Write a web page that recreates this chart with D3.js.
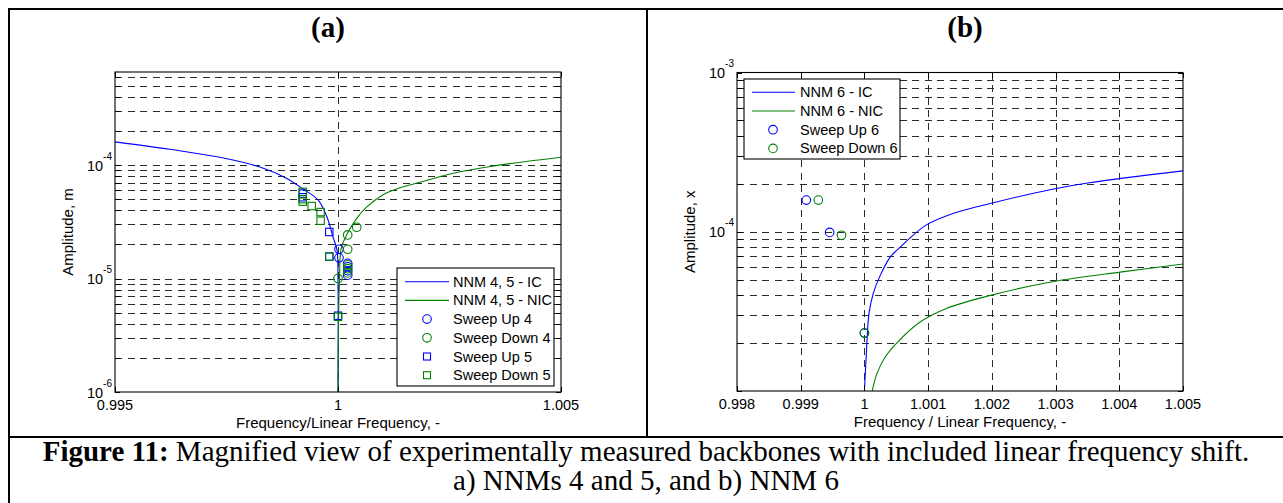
<!DOCTYPE html>
<html>
<head>
<meta charset="utf-8">
<script src="https://cdn.jsdelivr.net/npm/d3@7"></script>
<style>
  html, body { margin: 0; padding: 0; background: #fff; }
  svg { display: block; }
</style>
</head>
<body>
<svg id="fig" width="1283" height="503"></svg>
<script>
// ---------- Panel (a): NNMs 4 and 5 ----------
const freqTicksA = [0.995, 1, 1.005];
const ampLabelsA = [1e-6, 1e-5, 1e-4];

// backbone curves [frequency ratio, amplitude]
const nnm45IC = [
  [0.995, 1.60e-4], [0.99623, 1.375e-4], [0.99735, 1.17e-4], [0.99825, 9.6e-5],
  [0.99883, 7.7e-5], [0.999215, 6.15e-5], [0.999552, 4.92e-5], [0.999753, 3.48e-5],
  [0.999888, 2.32e-5], [0.999978, 1.78e-5], [1.0, 9.1e-6], [1.0, 1.0e-6]
];
const nnm45NIC = [
  [1.0, 1.0e-6], [1.000016, 5.3e-6], [1.000034, 9.7e-6], [1.000072, 1.85e-5],
  [1.0002, 2.45e-5], [1.00042, 3.39e-5], [1.00064, 4.25e-5], [1.00102, 5.5e-5],
  [1.00139, 6.3e-5], [1.00184, 7.05e-5], [1.00249, 8.3e-5], [1.00341, 9.7e-5],
  [1.005, 1.17e-4]
];

// measured points
const sweepUp4 = [
  [1.000022, 1.81e-5], [1.000022, 1.52e-5], [1.000217, 1.36e-5],
  [1.000217, 1.27e-5], [1.000217, 1.17e-5], [1.000217, 1.07e-5]
];
const sweepDown4 = [
  [1.000419, 2.83e-5], [1.000217, 2.42e-5], [1.000217, 1.81e-5],
  [1.000217, 1.32e-5], [1.000217, 1.22e-5], [1.000217, 1.12e-5], [1.0, 1.0e-5]
];
const sweepUp5 = [
  [0.99921, 5.6e-5], [0.99921, 5.2e-5], [0.999805, 2.57e-5],
  [0.999805, 1.56e-5], [1.0, 4.7e-6]
];
const sweepDown5 = [
  [0.99921, 5.8e-5], [0.99921, 5.0e-5], [0.99921, 4.75e-5], [0.99941, 4.35e-5],
  [0.99961, 3.85e-5], [0.99961, 3.23e-5], [0.999805, 1.56e-5], [1.0, 4.6e-6]
];

// ---------- Panel (b): NNM 6 ----------
const freqTicksB = [0.998, 0.999, 1, 1.001, 1.002, 1.003, 1.004, 1.005];
const ampLabelsB = [1e-4, 1e-3];

const nnm6IC = [
  [1.0, 1.0e-5], [1.000025, 1.56e-5], [1.000072, 3.07e-5], [1.00014, 4.12e-5],
  [1.00025, 5.34e-5], [1.000407, 6.96e-5], [1.000512, 7.67e-5], [1.000967, 1.10e-4],
  [1.001411, 1.31e-4], [1.001992, 1.51e-4], [1.00295, 1.85e-4], [1.00353, 2.03e-4],
  [1.005, 2.41e-4]
];
const nnm6NIC = [
  [1.000121, 1.0e-5], [1.000198, 1.29e-5], [1.000328, 1.64e-5], [1.000506, 2.0e-5],
  [1.000878, 2.72e-5], [1.001286, 3.30e-5], [1.001992, 4.0e-5], [1.00295, 4.85e-5],
  [1.004042, 5.6e-5], [1.005, 6.27e-5]
];
const sweepUp6 = [[0.999088, 1.58e-4], [0.999454, 9.9e-5], [1.0, 2.31e-5]];
const sweepDown6 = [[0.999276, 1.58e-4], [0.99964, 9.5e-5], [1.0, 2.31e-5]];

// ---------- styling ----------
const BLUE = "#0000ff";
const GREEN = "#008000";
const SANS = "'Liberation Sans', Arial, sans-serif";
const SERIF = "'Liberation Serif', 'Times New Roman', serif";

const svg = d3.select("#fig");
svg.append("rect").attr("width", 1283).attr("height", 503).attr("fill", "#fff");

// table frame around the two panels and the caption
const frame = svg.append("g").attr("stroke", "#000").attr("stroke-width", 2);
frame.append("line").attr("x1", 8).attr("x2", 1283).attr("y1", 9).attr("y2", 9);
frame.append("line").attr("x1", 9).attr("x2", 9).attr("y1", 8).attr("y2", 503);
frame.append("line").attr("x1", 647).attr("x2", 647).attr("y1", 9).attr("y2", 437);
frame.append("line").attr("x1", 8).attr("x2", 1283).attr("y1", 437).attr("y2", 437);

function drawPanel(cfg) {
  const g = svg.append("g");
  const x = d3.scaleLinear().domain(cfg.xDomain).range([cfg.left, cfg.right]);
  const y = d3.scaleLog().domain(cfg.yDomain).range([cfg.bottom, cfg.top]);
  const yTicks = y.ticks();
  const px = v => Math.round(v) + 0.5;

  // panel title
  g.append("text")
    .attr("x", cfg.titleX).attr("y", 37)
    .attr("text-anchor", "middle")
    .attr("font-family", SERIF).attr("font-weight", "bold").attr("font-size", 29)
    .text(cfg.title);

  // dashed grid
  const grid = g.append("g")
    .attr("stroke", "#2a2a2a").attr("stroke-width", 1)
    .attr("stroke-dasharray", "7,5.5").attr("shape-rendering", "crispEdges");
  grid.selectAll("line.h")
    .data(yTicks.filter(v => y(v) > cfg.top + 1 && y(v) < cfg.bottom - 1))
    .join("line").attr("class", "h")
    .attr("x1", cfg.left).attr("x2", cfg.right)
    .attr("y1", d => px(y(d))).attr("y2", d => px(y(d)));
  grid.selectAll("line.v")
    .data(cfg.xTicks.filter(v => x(v) > cfg.left + 1 && x(v) < cfg.right - 1))
    .join("line").attr("class", "v")
    .attr("y1", cfg.top).attr("y2", cfg.bottom)
    .attr("x1", d => px(x(d))).attr("x2", d => px(x(d)));

  // clipped data layer
  const clipId = "clip-" + cfg.id;
  svg.append("clipPath").attr("id", clipId)
    .append("rect")
    .attr("x", cfg.left).attr("y", cfg.top)
    .attr("width", cfg.right - cfg.left).attr("height", cfg.bottom - cfg.top);
  const data = g.append("g").attr("clip-path", `url(#${clipId})`);

  const line = d3.line()
    .x(d => x(d[0])).y(d => y(d[1]))
    .curve(d3.curveCatmullRom.alpha(0.5));

  cfg.curves.forEach(c => {
    data.append("path").datum(c.values)
      .attr("d", line).attr("fill", "none")
      .attr("stroke", c.color).attr("stroke-width", 1.1);
  });

  cfg.markers.forEach(m => {
    if (m.shape === "circle") {
      data.selectAll(null).data(m.values).join("circle")
        .attr("cx", d => x(d[0])).attr("cy", d => y(d[1])).attr("r", 4.3)
        .attr("fill", "none").attr("stroke", m.color).attr("stroke-width", 1.1);
    } else {
      data.selectAll(null).data(m.values).join("rect")
        .attr("x", d => x(d[0]) - 3.7).attr("y", d => y(d[1]) - 3.7)
        .attr("width", 7.4).attr("height", 7.4)
        .attr("fill", "none").attr("stroke", m.color).attr("stroke-width", 1.1);
    }
  });

  // axes box
  g.append("rect")
    .attr("x", cfg.left).attr("y", cfg.top)
    .attr("width", cfg.right - cfg.left).attr("height", cfg.bottom - cfg.top)
    .attr("fill", "none").attr("stroke", "#000").attr("stroke-width", 1.1);

  // inward ticks on all four sides
  const tk = g.append("g").attr("stroke", "#000").attr("stroke-width", 1)
    .attr("shape-rendering", "crispEdges");
  const TL = 5;
  yTicks.forEach(v => {
    const yy = px(y(v));
    tk.append("line").attr("x1", cfg.left).attr("x2", cfg.left + TL).attr("y1", yy).attr("y2", yy);
    tk.append("line").attr("x1", cfg.right - TL).attr("x2", cfg.right).attr("y1", yy).attr("y2", yy);
  });
  cfg.xTicks.forEach(v => {
    const xx = px(x(v));
    tk.append("line").attr("x1", xx).attr("x2", xx).attr("y1", cfg.bottom - TL).attr("y2", cfg.bottom);
    tk.append("line").attr("x1", xx).attr("x2", xx).attr("y1", cfg.top).attr("y2", cfg.top + TL);
  });

  // x tick labels
  g.selectAll(null).data(cfg.xTicks).join("text")
    .attr("x", d => x(d)).attr("y", cfg.bottom + 18)
    .attr("text-anchor", "middle")
    .attr("font-family", SANS).attr("font-size", 14.5)
    .text(d => d3.format("")(d));

  // y tick labels as powers of ten
  cfg.yLabels.forEach(v => {
    const t = g.append("text")
      .attr("x", cfg.left - 3).attr("y", y(v) + 5.5)
      .attr("text-anchor", "end")
      .attr("font-family", SANS).attr("font-size", 14.5);
    t.append("tspan").text("10");
    t.append("tspan").attr("font-size", 10).attr("dy", -11)
      .text(String(Math.round(Math.log10(v))));
  });

  // axis labels
  g.append("text")
    .attr("x", (cfg.left + cfg.right) / 2).attr("y", cfg.bottom + 36)
    .attr("text-anchor", "middle")
    .attr("font-family", SANS).attr("font-size", 15)
    .text(cfg.xLabel);
  g.append("text")
    .attr("transform", `translate(${cfg.yLabelX},${(cfg.top + cfg.bottom) / 2}) rotate(-90)`)
    .attr("text-anchor", "middle")
    .attr("font-family", SANS).attr("font-size", 15)
    .text(cfg.yLabel);

  // legend
  const L = cfg.legend;
  const lg = g.append("g");
  lg.append("rect")
    .attr("x", L.x).attr("y", L.y).attr("width", L.w).attr("height", L.h)
    .attr("fill", "#fff").attr("stroke", "#000").attr("stroke-width", 1.1);
  L.entries.forEach((e, i) => {
    const ry = L.y + L.firstRow + i * L.rowStep;
    if (e.type === "line") {
      lg.append("line")
        .attr("x1", L.x + L.lineX0).attr("x2", L.x + L.lineX1)
        .attr("y1", ry).attr("y2", ry)
        .attr("stroke", e.color).attr("stroke-width", 1.1);
    } else if (e.type === "circle") {
      lg.append("circle")
        .attr("cx", L.x + L.markX).attr("cy", ry).attr("r", 4.3)
        .attr("fill", "none").attr("stroke", e.color).attr("stroke-width", 1.1);
    } else {
      lg.append("rect")
        .attr("x", L.x + L.markX - 3.5).attr("y", ry - 3.5)
        .attr("width", 7).attr("height", 7)
        .attr("fill", "none").attr("stroke", e.color).attr("stroke-width", 1.1);
    }
    lg.append("text")
      .attr("x", L.x + L.textX).attr("y", ry + 5)
      .attr("font-family", SANS).attr("font-size", 14.5)
      .text(e.label);
  });
}

drawPanel({
  id: "a", title: "(a)", titleX: 328,
  left: 115, right: 561, top: 72, bottom: 392,
  xDomain: [0.995, 1.005], yDomain: [1e-6, 6.6e-4],
  xTicks: freqTicksA, yLabels: ampLabelsA,
  xLabel: "Frequency/Linear Frequency, -", yLabel: "Amplitude, m", yLabelX: 73,
  curves: [
    { values: nnm45IC, color: BLUE },
    { values: nnm45NIC, color: GREEN }
  ],
  markers: [
    { values: sweepUp4, color: BLUE, shape: "circle" },
    { values: sweepDown4, color: GREEN, shape: "circle" },
    { values: sweepUp5, color: BLUE, shape: "square" },
    { values: sweepDown5, color: GREEN, shape: "square" }
  ],
  legend: {
    x: 397, y: 268, w: 157, h: 118, firstRow: 13.7, rowStep: 18.7,
    lineX0: 8, lineX1: 52, markX: 30, textX: 56,
    entries: [
      { type: "line", color: BLUE, label: "NNM 4, 5 - IC" },
      { type: "line", color: GREEN, label: "NNM 4, 5 - NIC" },
      { type: "circle", color: BLUE, label: "Sweep Up 4" },
      { type: "circle", color: GREEN, label: "Sweep Down 4" },
      { type: "square", color: BLUE, label: "Sweep Up 5" },
      { type: "square", color: GREEN, label: "Sweep Down 5" }
    ]
  }
});

drawPanel({
  id: "b", title: "(b)", titleX: 965,
  left: 737, right: 1183, top: 72.5, bottom: 391,
  xDomain: [0.998, 1.005], yDomain: [1e-5, 1e-3],
  xTicks: freqTicksB, yLabels: ampLabelsB,
  xLabel: "Frequency / Linear Frequency, -", yLabel: "Amplitude, x", yLabelX: 695,
  curves: [
    { values: nnm6IC, color: BLUE },
    { values: nnm6NIC, color: GREEN }
  ],
  markers: [
    { values: sweepUp6, color: BLUE, shape: "circle" },
    { values: sweepDown6, color: GREEN, shape: "circle" }
  ],
  legend: {
    x: 744, y: 79, w: 156, h: 80, firstRow: 13.3, rowStep: 18.7,
    lineX0: 8, lineX1: 51, markX: 29, textX: 56,
    entries: [
      { type: "line", color: BLUE, label: "NNM 6 - IC" },
      { type: "line", color: GREEN, label: "NNM 6 - NIC" },
      { type: "circle", color: BLUE, label: "Sweep Up 6" },
      { type: "circle", color: GREEN, label: "Sweep Down 6" }
    ]
  }
});

// caption
const cap = svg.append("g").attr("font-family", SERIF).attr("font-size", 29).attr("text-anchor", "middle");
const c1 = cap.append("text").attr("x", 646).attr("y", 461);
c1.append("tspan").attr("font-weight", "bold").text("Figure 11:");
c1.append("tspan").text(" Magnified view of experimentally measured backbones with included linear frequency shift.");
cap.append("text").attr("x", 646).attr("y", 490).text("a) NNMs 4 and 5, and b) NNM 6");
</script>
</body>
</html>
